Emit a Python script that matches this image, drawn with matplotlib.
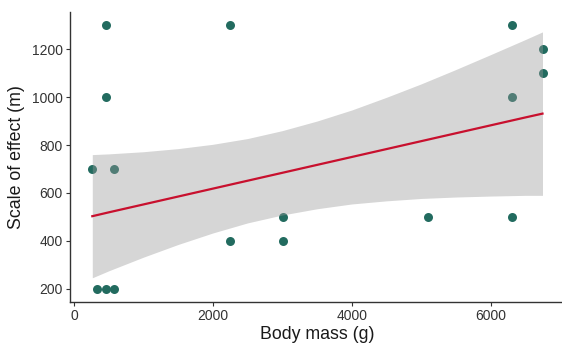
import matplotlib
matplotlib.use('agg')
import matplotlib.pyplot as plt

# data points
body_mass = [460, 2254, 460, 264, 571, 326, 460, 571, 2254, 3007, 3007,
             6306, 6748, 6748, 6306, 5098, 6306]
scale_effect = [1300, 1300, 1000, 700, 700, 200, 200, 200, 400, 500, 400,
                1300, 1200, 1100, 1000, 500, 500]

# fitted line and its confidence band
fit_x = [264, 500, 1000, 1500, 2000, 2500, 3000, 3500, 4000, 4500, 5000, 5500, 6000, 6500, 6748]
fit_y = [503, 519, 552, 585, 618, 651, 684, 717, 750, 783, 816, 849, 882, 915, 931]
fit_lo = [246, 275, 332, 385, 433, 475, 508, 534, 554, 567, 577, 583, 587, 590, 590]
fit_hi = [760, 763, 772, 785, 803, 827, 860, 900, 946, 999, 1055, 1115, 1177, 1240, 1272]

xticks = [0, 2000, 4000, 6000]
yticks = [200, 400, 600, 800, 1000, 1200]

plt.rcParams['font.family'] = ['Liberation Sans', 'DejaVu Sans']

fig = plt.figure(figsize=(5.62, 3.45), dpi=100)
ax = fig.add_axes([69.8 / 562, 43 / 345, (565 - 69.8) / 562, 290 / 345])

###PLOTTING###
ax.scatter(body_mass, scale_effect, s=42, color='#226B5F', linewidths=0, zorder=2)
ax.fill_between(fit_x, fit_lo, fit_hi, color='#999999', alpha=0.4, linewidth=0, zorder=3)
ax.plot(fit_x, fit_y, color='#C8102E', lw=1.6, zorder=4)

###AXES###
ax.set_xlim(-60, 7072)
ax.set_ylim(145, 1355)
ax.set_xticks(xticks)
ax.set_yticks(yticks)
ax.set_xlabel('Body mass (g)', fontsize=12.8, color='#1a1a1a', labelpad=2)
ax.set_ylabel('Scale of effect (m)', fontsize=12.8, color='#1a1a1a', labelpad=5)
ax.tick_params(labelsize=10, labelcolor='#333333', color='#333333', length=3, width=0.8, pad=2)

for spine in ['top', 'right']:
    ax.spines[spine].set_visible(False)
for spine in ['left', 'bottom']:
    ax.spines[spine].set_color('#333333')
    ax.spines[spine].set_linewidth(1.0)

plt.savefig('out.png', dpi=100)
